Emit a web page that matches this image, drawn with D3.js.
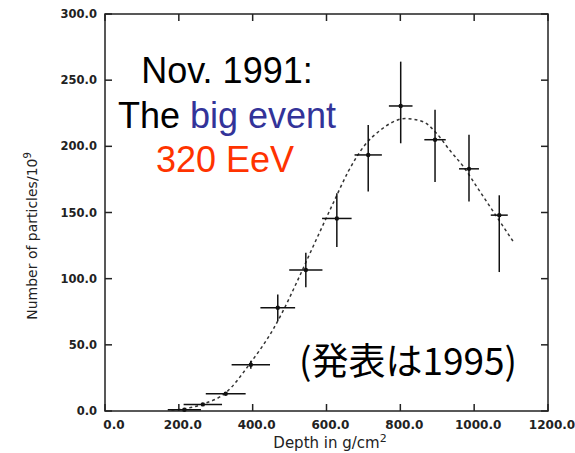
<!DOCTYPE html>
<html>
<head>
<meta charset="utf-8">
<script src="https://cdn.jsdelivr.net/npm/d3@7"></script>
<style>
  body { margin: 0; background: #fff; }
  svg { display: block; }
</style>
</head>
<body>
<svg id="chart" width="575" height="453"></svg>
<script>
// Measured points (depth in g/cm2, particles / 1e9)
var depth     = [215, 265, 327, 395, 468, 544, 628, 713, 801, 894, 986, 1068];
var particles = [1, 5, 13, 35, 78, 106.5, 145.5, 193.5, 230.5, 205, 183, 148];
var depthErr  = [45, 52, 54, 52, 47, 45, 40, 37, 32, 29, 27, 23];
var errLow    = [0, 0, 0, 3, 10, 13, 21.5, 27.7, 28.2, 32, 24.7, 43];
var errHigh   = [0, 0, 0, 3, 10, 13, 19, 22.7, 33.5, 22.7, 25.7, 15];

// Dashed fit curve
var fitDepth = [180, 263, 328, 393, 456, 483, 519, 555, 618, 659, 704, 745, 813, 862, 898, 934, 971, 1007, 1043, 1106];
var fitValue = [0.5, 5, 14, 36, 62, 76, 97, 119, 157, 181, 201, 212, 221, 218.6, 209.8, 197, 184.6, 169.5, 154.4, 128];

var xTicks = [0, 200, 400, 600, 800, 1000, 1200];
var yTicks = [0, 50, 100, 150, 200, 250, 300];

var svg = d3.select("#chart");
var plotL = 105, plotR = 548, plotT = 14, plotB = 411;

var x = d3.scaleLinear().domain([0, 1200]).range([plotL, plotR]);
var y = d3.scaleLinear().domain([0, 300]).range([plotB, plotT]);

var tickFont = "DejaVu Sans, sans-serif";
var ink = "#222";

// frame
svg.append("rect")
    .attr("x", plotL).attr("y", plotT)
    .attr("width", plotR - plotL).attr("height", plotB - plotT)
    .attr("fill", "none").attr("stroke", ink).attr("stroke-width", 1.5);

// inward ticks on all four sides
var tickLen = 7;
xTicks.forEach(function(t) {
    svg.append("line").attr("x1", x(t)).attr("x2", x(t)).attr("y1", plotB).attr("y2", plotB - tickLen)
        .attr("stroke", ink).attr("stroke-width", 1.5);
    svg.append("line").attr("x1", x(t)).attr("x2", x(t)).attr("y1", plotT).attr("y2", plotT + tickLen)
        .attr("stroke", ink).attr("stroke-width", 1.5);
    svg.append("text")
        .attr("x", x(t) + (t === 0 ? 9 : 4)).attr("y", 429)
        .attr("text-anchor", "middle")
        .attr("font-family", tickFont).attr("font-weight", "bold").attr("font-size", 12)
        .attr("fill", ink)
        .text(d3.format(".1f")(t));
});
yTicks.forEach(function(t) {
    svg.append("line").attr("x1", plotL).attr("x2", plotL + tickLen).attr("y1", y(t)).attr("y2", y(t))
        .attr("stroke", ink).attr("stroke-width", 1.5);
    svg.append("line").attr("x1", plotR).attr("x2", plotR - tickLen).attr("y1", y(t)).attr("y2", y(t))
        .attr("stroke", ink).attr("stroke-width", 1.5);
    svg.append("text")
        .attr("x", 97).attr("y", y(t) + 4)
        .attr("text-anchor", "end")
        .attr("font-family", tickFont).attr("font-weight", "bold").attr("font-size", 11.5)
        .attr("fill", ink)
        .text(d3.format(".1f")(t));
});

// axis titles
var xt = svg.append("text")
    .attr("x", 330).attr("y", 448)
    .attr("text-anchor", "middle")
    .attr("font-family", tickFont).attr("font-size", 15).attr("fill", ink);
xt.append("tspan").text("Depth in g/cm");
xt.append("tspan").attr("dy", -6).attr("font-size", 11).text("2");

var yt = svg.append("text")
    .attr("transform", "translate(37,236) rotate(-90)")
    .attr("text-anchor", "middle")
    .attr("font-family", tickFont).attr("font-size", 14).attr("fill", ink);
yt.append("tspan").text("Number of particles/10");
yt.append("tspan").attr("dy", -6).attr("font-size", 10).text("9");

// fit curve
var fit = fitDepth.map(function(d, i) { return [d, fitValue[i]]; });
svg.append("path")
    .attr("d", d3.line().x(function(d) { return x(d[0]); }).y(function(d) { return y(d[1]); })
        .curve(d3.curveMonotoneX)(fit))
    .attr("fill", "none").attr("stroke", "#333").attr("stroke-width", 1.5)
    .attr("stroke-dasharray", "3,3");

// error bars and points
var pts = depth.map(function(d, i) { return i; });
var g = svg.append("g").attr("stroke", "#111").attr("stroke-width", 1.5);
g.selectAll("line.h").data(pts).enter().append("line")
    .attr("x1", function(i) { return x(depth[i] - depthErr[i]); })
    .attr("x2", function(i) { return x(depth[i] + depthErr[i]); })
    .attr("y1", function(i) { return y(particles[i]); })
    .attr("y2", function(i) { return y(particles[i]); });
g.selectAll("line.v").data(pts.filter(function(i) { return errLow[i] + errHigh[i] > 0; })).enter().append("line")
    .attr("x1", function(i) { return x(depth[i]); })
    .attr("x2", function(i) { return x(depth[i]); })
    .attr("y1", function(i) { return y(particles[i] - errLow[i]); })
    .attr("y2", function(i) { return y(particles[i] + errHigh[i]); });
svg.selectAll("circle").data(pts).enter().append("circle")
    .attr("cx", function(i) { return x(depth[i]); })
    .attr("cy", function(i) { return y(particles[i]); })
    .attr("r", 2.2).attr("fill", "#111");

// annotations
var bigFont = "Liberation Sans, Arial, sans-serif";
svg.append("text").attr("x", 227).attr("y", 83).attr("text-anchor", "middle")
    .attr("font-family", bigFont).attr("font-size", 36).attr("fill", "#000")
    .text("Nov. 1991:");
var t2 = svg.append("text").attr("x", 227).attr("y", 128).attr("text-anchor", "middle")
    .attr("font-family", bigFont).attr("font-size", 36).attr("fill", "#000");
t2.append("tspan").text("The ");
t2.append("tspan").attr("fill", "#333399").text("big event");
svg.append("text").attr("x", 225).attr("y", 172).attr("text-anchor", "middle")
    .attr("font-family", bigFont).attr("font-size", 36).attr("fill", "#ff3300")
    .text("320 EeV");
svg.append("text").attr("x", 408).attr("y", 375).attr("text-anchor", "middle")
    .attr("font-family", "Noto Sans CJK JP, sans-serif").attr("font-size", 37).attr("fill", "#000")
    .text("(発表は1995)");
</script>
</body>
</html>
